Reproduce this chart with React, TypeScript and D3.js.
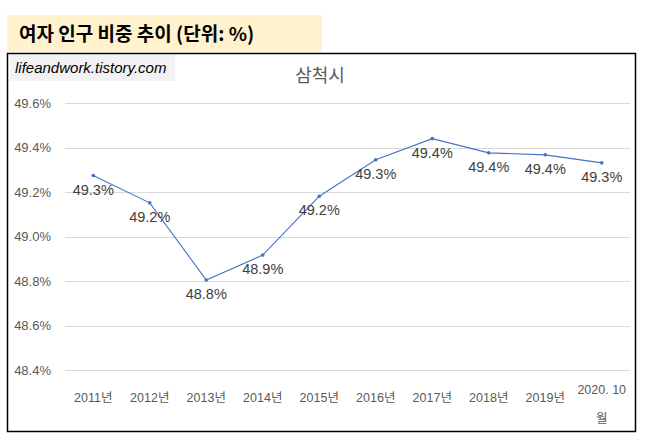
import * as d3 from 'd3';
import React, { useEffect, useRef } from 'react';

// 삼척시 여자 인구 비중 (%)
const categories: string[] = [
    '2011년', '2012년', '2013년', '2014년', '2015년',
    '2016년', '2017년', '2018년', '2019년', '2020. 10월',
];
const femaleShare: number[] = [
    49.275, 49.152, 48.805, 48.917, 49.182,
    49.346, 49.441, 49.377, 49.368, 49.332,
];
const yTicks: number[] = [48.4, 48.6, 48.8, 49.0, 49.2, 49.4, 49.6];

const sansFont = '"Liberation Sans", "Noto Sans CJK KR", sans-serif';
const krFont = '"Noto Sans CJK KR", "Liberation Sans", sans-serif';

export default () => {
    const ref = useRef<any>();

    function draw(): void {
        const width = 648;
        const height = 444;

        const svg = d3.select<any, any>(ref.current)
            .attr('width', width)
            .attr('height', height);
        svg.selectAll('*').remove();

        svg.append('rect').attr('width', width).attr('height', height).attr('fill', '#fff');

        // heading box
        svg.append('rect')
            .attr('x', 7).attr('y', 15).attr('width', 315).attr('height', 37)
            .attr('fill', '#FFF2CC');
        svg.append('text')
            .attr('x', 19).attr('y', 41)
            .attr('font-family', krFont)
            .attr('font-size', 19)
            .attr('font-weight', 'bold')
            .attr('fill', '#000')
            .text('여자 인구 비중 추이 (단위: %)');

        // chart frame
        svg.append('rect')
            .attr('x', 7.5).attr('y', 53.5).attr('width', 628).attr('height', 378)
            .attr('fill', '#fff')
            .attr('stroke', '#000')
            .attr('stroke-width', 1.5);

        // watermark
        svg.append('rect')
            .attr('x', 10).attr('y', 55).attr('width', 165).attr('height', 26)
            .attr('fill', '#F2F2F2');
        svg.append('text')
            .attr('x', 15).attr('y', 73)
            .attr('font-family', sansFont)
            .attr('font-style', 'italic')
            .attr('font-size', 15)
            .attr('fill', '#000')
            .text('lifeandwork.tistory.com');

        // chart title
        svg.append('text')
            .attr('x', 320).attr('y', 82)
            .attr('text-anchor', 'middle')
            .attr('font-family', krFont)
            .attr('font-size', 18)
            .attr('fill', '#595959')
            .text('삼척시');

        const xScale = d3.scaleBand().domain(categories).range([65, 630]);
        const yScale = d3.scaleLinear().domain([48.4, 49.6]).range([370, 103.3]);
        const cx = (c: string) => (xScale(c) as number) + xScale.bandwidth() / 2;

        // gridlines
        svg.append('g').attr('class', 'grid')
            .selectAll('line').data(yTicks).join('line')
            .attr('x1', 65).attr('x2', 630)
            .attr('y1', (d) => Math.round(yScale(d)) + 0.5)
            .attr('y2', (d) => Math.round(yScale(d)) + 0.5)
            .attr('stroke', '#D9D9D9')
            .attr('stroke-width', 1);

        // y tick labels
        svg.append('g').attr('class', 'y-axis')
            .selectAll('text').data(yTicks).join('text')
            .attr('x', 51)
            .attr('y', (d) => yScale(d))
            .attr('dy', '0.35em')
            .attr('text-anchor', 'end')
            .attr('font-family', sansFont)
            .attr('font-size', 13)
            .attr('fill', '#595959')
            .text((d) => d.toFixed(1) + '%');

        // x labels
        const xLabels = svg.append('g').attr('class', 'x-axis')
            .selectAll('text').data(categories).join('text')
            .attr('text-anchor', 'middle')
            .attr('font-family', sansFont)
            .attr('font-size', 12.5)
            .attr('fill', '#595959');
        xLabels.each(function (d) {
            const t = d3.select(this);
            if (d.startsWith('2020')) {
                t.append('tspan').attr('x', cx(d)).attr('y', 394).text('2020. 10');
                t.append('tspan').attr('x', cx(d)).attr('y', 423).text('월');
            } else {
                t.append('tspan').attr('x', cx(d)).attr('y', 402).text(d);
            }
        });

        const data = categories.map((c, i) => ({ c, v: femaleShare[i] }));

        const line = d3.line<any>()
            .x((d) => cx(d.c))
            .y((d) => yScale(d.v));

        svg.append('path')
            .datum(data)
            .attr('d', line)
            .attr('fill', 'none')
            .attr('stroke', '#4472C4')
            .attr('stroke-width', 1.1);

        svg.append('g').selectAll('circle').data(data).join('circle')
            .attr('cx', (d) => cx(d.c))
            .attr('cy', (d) => yScale(d.v))
            .attr('r', 1.8)
            .attr('fill', '#4472C4');

        // data labels below points
        svg.append('g').selectAll('text').data(data).join('text')
            .attr('x', (d) => cx(d.c))
            .attr('y', (d) => yScale(d.v) + 19)
            .attr('text-anchor', 'middle')
            .attr('font-family', sansFont)
            .attr('font-size', 14.5)
            .attr('fill', '#404040')
            .text((d) => d.v.toFixed(1) + '%');
    }

    useEffect(() => {
        draw();
    });

    return (
        <svg ref={ref} style={{ position: 'absolute', left: 0, top: 0, display: 'block' }}></svg>
    );
};
